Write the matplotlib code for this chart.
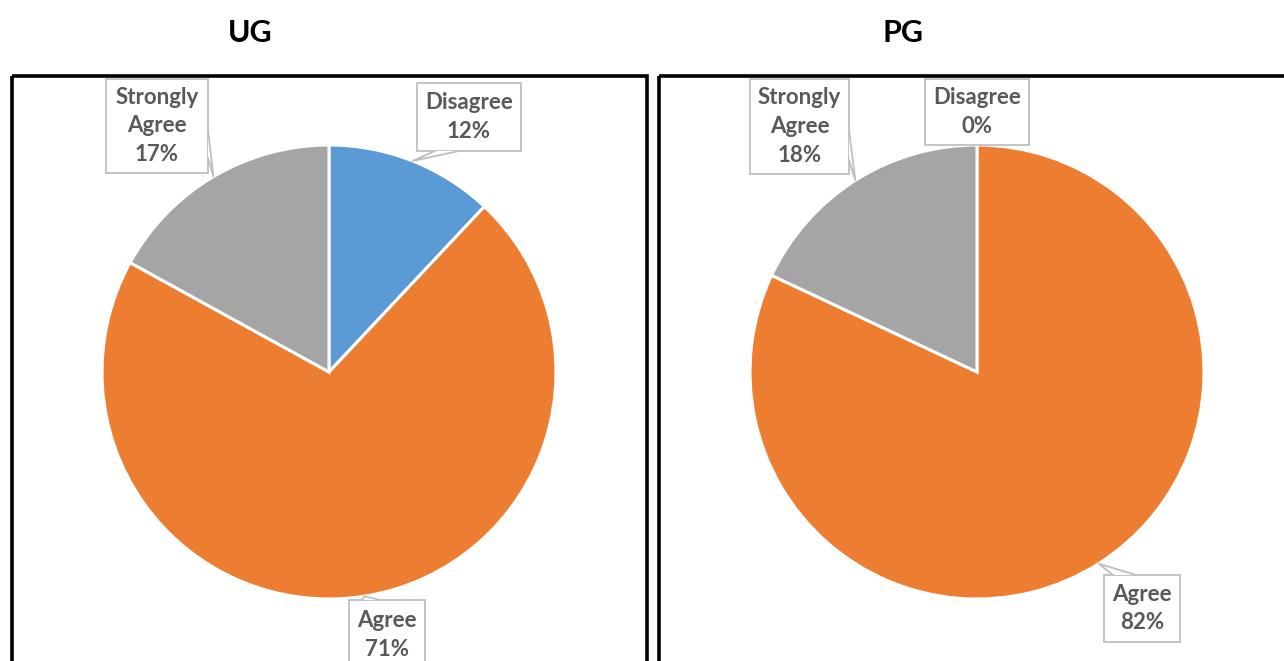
import numpy as np
import matplotlib.pyplot as plt
from matplotlib.patches import Rectangle, Polygon

W, H = 1284, 661

# data
categories = ["Disagree", "Agree", "Strongly\nAgree"]
ug_values = [12, 71, 17]
pg_values = [0, 82, 18]
titles = ["UG", "PG"]
colors = ["#5B9BD5", "#ED7D31", "#A5A5A5"]

# layout in pixels (y from top)
panels = [
  dict(values=ug_values, title=titles[0], title_x=250, center=(329, 372),
       frame=(12, 76, 635),
       boxes=[(417, 83, 521, 151), (349, 600, 425, 690), (106, 79, 208, 173)],
       tabs=[((435, 151), (459, 151)), ((362, 600), (380, 600)), ((208, 130), (208, 158))]),
  dict(values=pg_values, title=titles[1], title_x=903, center=(977, 372),
       frame=(659, 76, 700),
       boxes=[(925, 79, 1029, 145), (1104, 575, 1180, 642), (750, 79, 849, 174)],
       tabs=[None, ((1113, 575), (1136, 575)), ((849, 130), (849, 160))]),
]
radius = 227
label_color = "#595959"
box_color = "#BFBFBF"
font = ["Lato", "DejaVu Sans"]

fig = plt.figure(figsize=(W / 100, H / 100), dpi=100)
ax = fig.add_axes([0, 0, 1, 1])

for p in panels:
  # y axis is inverted below, so start at -90 and go counterclockwise in data
  wedges, _ = ax.pie(p["values"], colors=colors, startangle=-90, counterclock=True,
                     center=p["center"], radius=radius,
                     wedgeprops=dict(edgecolor="white", linewidth=2.2))
  fx, fy, fw = p["frame"]
  ax.add_patch(Rectangle((fx, fy), fw, 700, fill=False, edgecolor="black",
                         linewidth=2.6, zorder=5))
  ax.text(p["title_x"], 33, p["title"], ha="center", va="center", fontsize=22,
          fontweight="bold", family=font, color="black")
  for i, w in enumerate(wedges):
    x0, y0, x1, y1 = p["boxes"][i]
    ax.add_patch(Rectangle((x0, y0), x1 - x0, y1 - y0, facecolor="white",
                           edgecolor=box_color, linewidth=1.3, zorder=3))
    tab = p["tabs"][i]
    if tab is not None:
      mid = np.deg2rad((w.theta1 + w.theta2) / 2)
      tip = (p["center"][0] + radius * np.cos(mid), p["center"][1] + radius * np.sin(mid))
      ax.add_patch(Polygon([tab[0], tip, tab[1]], closed=True, facecolor="white",
                           edgecolor="none", zorder=3.5))
      ax.plot([tab[0][0], tip[0], tab[1][0]], [tab[0][1], tip[1], tab[1][1]],
              color=box_color, linewidth=1.3, zorder=3.6)
    pct = p["values"][i] / sum(p["values"]) * 100
    label = categories[i] + "\n" + "{:.0f}%".format(pct)
    ty = (y0 + y1) / 2 if y1 < H else y0 + 35
    ax.text((x0 + x1) / 2, ty, label, ha="center", va="center", fontsize=16,
            fontweight="bold", family=font, color=label_color, linespacing=1.45,
            zorder=4)

ax.set_xlim(0, W)
ax.set_ylim(H, 0)
ax.set_aspect("auto")
ax.axis("off")
fig.savefig("out.png", dpi=100)
